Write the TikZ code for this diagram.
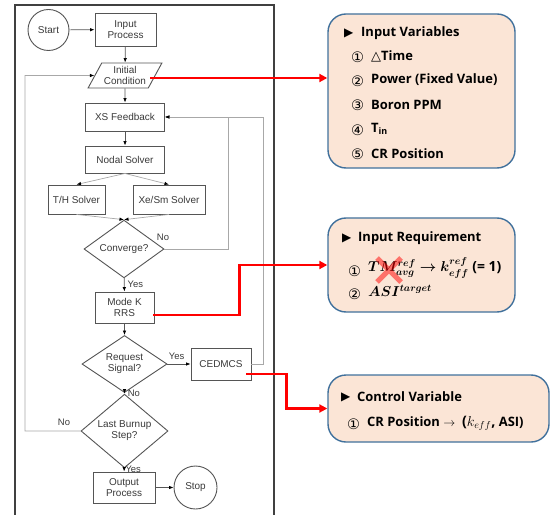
\documentclass[tikz,border=0pt]{standalone}
\usepackage{amsmath}
\usepackage{bm}
\usepackage{fontspec}
\setmainfont{Liberation Sans}
\newfontfamily\panelfont{Open Sans}
\newfontfamily\dvsym{DejaVu Sans}
\usetikzlibrary{shapes.geometric,arrows.meta,calc}
\definecolor{panelfill}{HTML}{FBE5D6}
\definecolor{panelline}{HTML}{41719C}
\definecolor{boxline}{HTML}{555555}
\definecolor{txt}{HTML}{3A3A3A}
\definecolor{loopline}{HTML}{A8A8A8}
\newcommand{\circnum}[1]{{\dvsym\mdseries\fontsize{14.5}{15}\selectfont #1}}
\newcommand{\tripoint}{{\dvsym\mdseries\fontsize{12}{14}\selectfont ▶}}
\begin{document}
\begin{tikzpicture}[x=1bp,y=-1bp,
  every node/.style={font=\fontsize{10}{11}\selectfont, text=txt},
  procbox/.style={draw=boxline, line width=0.9bp, fill=white, align=center, inner sep=0pt},
  decision/.style={diamond, draw=boxline, line width=0.9bp, fill=white, align=center, inner sep=0pt},
  terminal/.style={circle, draw=boxline, line width=0.9bp, fill=white, inner sep=0pt},
  flow/.style={draw=boxline, line width=0.7bp, -{Latex[length=4.5bp,width=3.5bp,black]}},
  loopflow/.style={draw=loopline, line width=0.7bp, -{Latex[length=4.5bp,width=3.5bp,black]}},
  lbl/.style={font=\fontsize{9.5}{10}\selectfont, inner sep=0pt},
  panel/.style={draw=panelline, line width=1.4bp, fill=panelfill, rounded corners=18bp, inner sep=0pt},
  ptext/.style={anchor=west, inner sep=0pt, text=black, font=\panelfont\bfseries\fontsize{13}{15}\selectfont},
  pnum/.style={anchor=west, inner sep=0pt, text=black},
  hot/.style={draw=red, line width=2.4bp, -{Triangle[length=8bp,width=8bp]}}
]
\useasboundingbox (0,0) rectangle (551,515);

% outer frame of the flowchart
\draw[draw=black!75, line width=1.1bp] (15,515) -- (15,5) -- (274,5) -- (274,515);

% flowchart nodes
\node[terminal, minimum size=41bp] (start) at (48.5,30) {Start};
\node[procbox, minimum width=61bp, minimum height=33bp] (inproc) at (125.5,29.5) {Input\\Process};
\node[trapezium, trapezium left angle=56, trapezium right angle=124, trapezium stretches=true,
      draw=boxline, line width=0.9bp, fill=white, align=center, inner sep=0pt,
      minimum width=74bp, minimum height=25bp] (init) at (125,75.5) {Initial\\Condition};
\node[procbox, minimum width=79bp, minimum height=28bp] (xs) at (125,117) {XS Feedback};
\node[procbox, minimum width=79bp, minimum height=27bp] (nodal) at (125,159.5) {Nodal Solver};
\node[procbox, minimum width=57bp, minimum height=29bp] (th) at (76.5,199.5) {T/H Solver};
\node[procbox, minimum width=72bp, minimum height=29bp] (xe) at (169,199.5) {Xe/Sm Solver};
\node[decision, minimum width=80bp, minimum height=42bp] (conv) at (124,249) {Converge?};
\node[procbox, minimum width=59bp, minimum height=31bp] (modek) at (124.5,307.5) {Mode K\\RRS};
\node[decision, minimum width=85bp, minimum height=46bp] (request) at (124.5,364) {Request\\Signal?};
\node[procbox, minimum width=60bp, minimum height=32bp] (ced) at (221,364) {CEDMCS};
\node[decision, minimum width=87bp, minimum height=48bp] (last) at (124.5,431) {Last Burnup\\Step?};
\node[procbox, minimum width=62bp, minimum height=31bp] (outproc) at (124,487.5) {Output\\Process};
\node[terminal, minimum size=43bp] (stop) at (195.5,487.5) {Stop};

% main flow
\draw[flow] (start) -- (inproc);
\draw[flow] (inproc) -- (init);
\draw[flow] (init) -- (xs);
\draw[flow] (xs) -- (nodal);
\draw[loopflow] (nodal.south) -- (th.north);
\draw[loopflow] (nodal.south) -- (xe.north);
\draw[loopflow] (th.south) -- (conv.north);
\draw[loopflow] (xe.south) -- (conv.north);
\draw[flow] (conv) -- node[lbl, right=3bp, pos=0.45] {Yes} (modek);
\draw[flow] (modek) -- (request);
\draw[flow] (request) -- node[lbl, above=4bp, pos=0.4] {Yes} (ced);
\draw[flow] (request) -- node[lbl, right=3bp, pos=0.5] {No} (last);
\draw[flow] (last) -- node[lbl, right=1bp, pos=0.4] {Yes} (outproc);
\draw[flow] (outproc) -- (stop);

% feedback loops
\draw[loopflow] (conv.east) -- (228,249) -- (228,117) -- (xs.east);
\node[lbl] at (163,237) {No};
\draw[loopflow] (ced.east) -- (263,364) -- (263,117) -- (xs.east);
\draw[loopflow] (last.west) -- (25,431) -- (25,75.5) -- (init.west);
\node[lbl] at (64,422) {No};

% information panels
\node[panel, minimum width=187bp, minimum height=154bp] (vars) at (421.5,91) {};
\node[panel, minimum width=187bp, minimum height=94bp] (reqs) at (421.5,265) {};
\node[panel, minimum width=221bp, minimum height=67bp] (ctrl) at (438.5,408.5) {};

% red links into the panels
\coordinate (icred) at (150,78);
\coordinate (mkred) at (153,315);
\coordinate (cedred) at (246,374);
\draw[hot] (icred) -- (icred -| vars.west);
\draw[hot] (mkred) -| ([xshift=-88bp]reqs.west) -- (reqs.west);
\draw[hot] (cedred) -| ([xshift=-41bp]ctrl.west) -- (ctrl.west);

% panel 1: input variables
\node[pnum] at (344,33) {\tripoint};
\node[ptext] at (361,33) {Input Variables};
\node[pnum] at (351,57) {\circnum{①}};
\node[ptext] at (371,56) {{\dvsym\mdseries △}Time};
\node[pnum] at (351,81) {\circnum{②}};
\node[ptext] at (371,80) {Power (Fixed Value)};
\node[pnum] at (351,105) {\circnum{③}};
\node[ptext] at (371,105) {Boron PPM};
\node[pnum] at (351,130) {\circnum{④}};
\node[ptext] at (371,129) {T\raisebox{-2.5bp}{\fontsize{9}{8}\selectfont in}};
\node[pnum] at (351,154) {\circnum{⑤}};
\node[ptext] at (371,154) {CR Position};

% panel 2: input requirement
\node[pnum] at (342,238) {\tripoint};
\node[ptext] at (358,238) {Input Requirement};
\node[pnum] at (348,271) {\circnum{①}};
\node[ptext, font=\panelfont\bfseries\fontsize{14}{16}\selectfont] (tm) at (368,268)
  {$\bm{TM^{ref}_{avg}\rightarrow k^{ref}_{eff}}$ (= 1)};
\draw[red, opacity=0.5, line width=5bp] (377,258) -- (401,282) (401,258) -- (377,282);
\node[pnum] at (348,294) {\circnum{②}};
\node[ptext, font=\panelfont\bfseries\fontsize{14}{16}\selectfont] (asi) at (368,291) {$\bm{ASI^{target}}$};

% panel 3: control variable
\node[pnum] at (341,397) {\tripoint};
\node[ptext] at (357,397) {Control Variable};
\node[pnum] at (347,424) {\circnum{①}};
\node[ptext] at (367,423) {CR Position $\rightarrow$\ \ {\fontsize{14.5}{16}\selectfont($k_{eff}$,} ASI)};
\end{tikzpicture}
\end{document}
